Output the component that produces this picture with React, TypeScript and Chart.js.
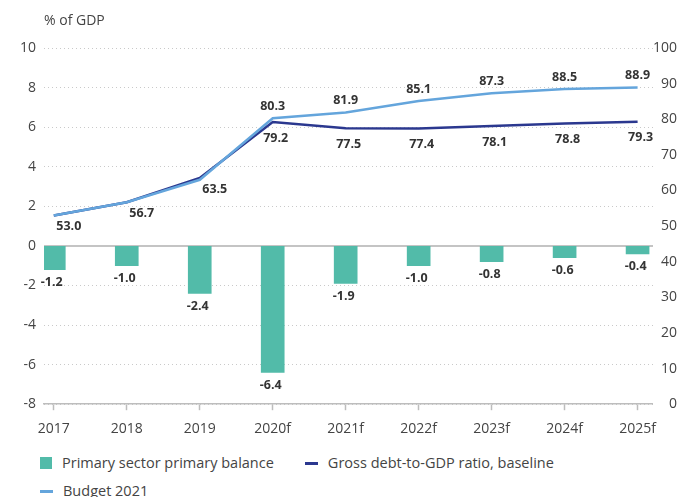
import React, { useEffect, useRef } from "react";
import { Chart, registerables } from "chart.js";

Chart.register(...registerables);

const categories = ["2017", "2018", "2019", "2020f", "2021f", "2022f", "2023f", "2024f", "2025f"];
const primaryBalance = [-1.2, -1.0, -2.4, -6.4, -1.9, -1.0, -0.8, -0.6, -0.4];
const debtBaseline = [53.0, 56.7, 63.5, 79.2, 77.5, 77.4, 78.1, 78.8, 79.3];
const budget2021 = [53.0, 56.7, 63.0, 80.3, 81.9, 85.1, 87.3, 88.5, 88.9];
const BUDGET_LABEL_START = 3;

const seriesNames = ["Primary sector primary balance", "Gross debt-to-GDP ratio, baseline", "Budget 2021"];
const axisTitle = "% of GDP";

const FONT = "'Open Sans', Lato, sans-serif";
const TEAL = "#52bba9";
const NAVY = "#2b388f";
const LIGHT = "#64a5dc";
const TEXT = "#444";
const LABEL = "#333";

const X_MIN = -0.134;
const X_MAX = 8.211;

const valueLabels = {
  id: "valueLabels",
  afterDatasetsDraw(chart: any) {
    const ctx = chart.ctx;
    ctx.save();
    ctx.font = `bold 12.5px ${FONT}`;
    ctx.fillStyle = LABEL;
    ctx.textAlign = "center";
    ctx.textBaseline = "middle";
    chart.getDatasetMeta(0).data.forEach((el: any, i: number) => {
      const v = primaryBalance[i];
      ctx.fillText(v.toFixed(1), el.x - 2, v < 0 ? el.y + 13 : el.y - 13);
    });
    chart.getDatasetMeta(1).data.forEach((el: any, i: number) => {
      const early = i < BUDGET_LABEL_START;
      ctx.fillText(debtBaseline[i].toFixed(1), el.x + (early ? 15 : 3), el.y + (early ? 11 : 16));
    });
    chart.getDatasetMeta(2).data.forEach((el: any, i: number) => {
      if (i < BUDGET_LABEL_START) return;
      ctx.fillText(budget2021[i].toFixed(1), el.x, el.y - 12);
    });
    ctx.restore();
  },
};

const extras = {
  id: "extras",
  beforeDatasetsDraw(chart: any) {
    const { ctx, chartArea, scales } = chart;
    const y0 = scales.y.getPixelForValue(0);
    ctx.save();
    ctx.strokeStyle = "#c4c4c4";
    ctx.lineWidth = 2;
    ctx.beginPath();
    ctx.moveTo(chartArea.left, y0);
    ctx.lineTo(chartArea.right, y0);
    ctx.stroke();
    ctx.restore();
  },
  afterDraw(chart: any) {
    const { ctx, chartArea } = chart;
    ctx.save();
    ctx.font = `14px ${FONT}`;
    ctx.fillStyle = TEXT;
    ctx.textAlign = "left";
    ctx.textBaseline = "middle";
    ctx.fillText(axisTitle, chartArea.left, 13);
    ctx.restore();
  },
};

export default function App() {
  const ref = useRef<HTMLCanvasElement>(null);

  useEffect(() => {
    if (!ref.current) return;
    const chart = new Chart(ref.current, {
      type: "bar",
      data: {
        datasets: [
          {
            type: "bar",
            label: seriesNames[0],
            data: primaryBalance.map((v, i) => ({ x: i, y: v })),
            backgroundColor: TEAL,
            barThickness: 23,
            yAxisID: "y",
            order: 2,
          } as any,
          {
            type: "line",
            label: seriesNames[1],
            data: debtBaseline.map((v, i) => ({ x: i, y: v })),
            borderColor: NAVY,
            borderWidth: 2.5,
            pointRadius: 0,
            tension: 0,
            yAxisID: "y1",
            order: 1,
          },
          {
            type: "line",
            label: seriesNames[2],
            data: budget2021.map((v, i) => ({ x: i, y: v })),
            borderColor: LIGHT,
            borderWidth: 2.5,
            pointRadius: 0,
            tension: 0,
            yAxisID: "y1",
            order: 0,
          },
        ],
      },
      options: {
        responsive: false,
        animation: false,
        layout: { padding: { top: 40, left: 4, right: 0, bottom: 4 } },
        plugins: { legend: { display: false }, tooltip: { enabled: false } },
        scales: {
          x: {
            type: "linear",
            min: X_MIN,
            max: X_MAX,
            offset: false,
            afterBuildTicks: (axis: any) => {
              axis.ticks = categories.map((_, i) => ({ value: i }));
            },
            grid: {
              offset: false,
              drawOnChartArea: false,
              drawTicks: true,
              tickLength: 6,
              tickColor: "#bdbdbd",
              tickWidth: 1.5,
            },
            border: { display: true, color: "#bdbdbd", width: 1.5 },
            ticks: {
              padding: 10,
              color: TEXT,
              font: { family: FONT, size: 14 },
              autoSkip: false,
              maxRotation: 0,
              callback: (v: any) => categories[Number(v)] ?? "",
            },
          },
          y: {
            position: "left",
            min: -8,
            max: 10,
            ticks: { stepSize: 2, padding: 8, color: TEXT, font: { family: FONT, size: 14 } },
            grid: { color: "#c9c9c9", drawTicks: false, lineWidth: 1 },
            border: { display: false, dash: [1, 3] },
          },
          y1: {
            position: "right",
            min: 0,
            max: 100,
            ticks: { stepSize: 10, padding: 0, crossAlign: "far", color: TEXT, font: { family: FONT, size: 14 } },
            grid: { drawOnChartArea: false, drawTicks: false },
            border: { display: false },
          },
        } as any,
      },
      plugins: [valueLabels, extras],
    });
    return () => chart.destroy();
  }, []);

  const marker = (i: number) =>
    i === 0 ? (
      <span style={{ width: 12, height: 12, background: TEAL, display: "inline-block" }} />
    ) : (
      <span style={{ width: 13, height: 3, background: i === 1 ? NAVY : LIGHT, display: "inline-block" }} />
    );

  return (
    <div style={{ fontFamily: FONT }}>
      <canvas ref={ref} width={669} height={443} style={{ display: "block" }} />
      <div
        style={{
          display: "flex",
          flexWrap: "wrap",
          columnGap: 31,
          rowGap: 10,
          marginLeft: 32,
          marginTop: 3,
          width: 600,
        }}
      >
        {seriesNames.map((name, i) => (
          <div key={name} style={{ display: "flex", alignItems: "center", height: 18, gap: 10 }}>
            {marker(i)}
            <span style={{ fontSize: 14.5, color: TEXT, lineHeight: "18px" }}>{name}</span>
          </div>
        ))}
      </div>
    </div>
  );
}
